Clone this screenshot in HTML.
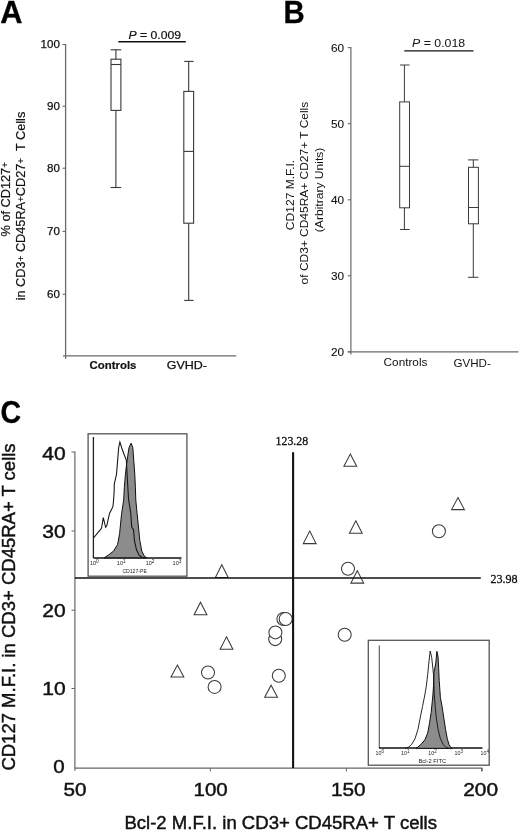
<!DOCTYPE html>
<html><head><meta charset="utf-8"><title>Figure</title>
<style>
html,body{margin:0;padding:0;background:#fff;}
body{width:520px;height:832px;overflow:hidden;font-family:"Liberation Sans", sans-serif;}
svg{display:block;filter:grayscale(1) blur(0.25px);}
</style></head>
<body>
<svg width="520" height="832" viewBox="0 0 520 832">
<rect x="0" y="0" width="520" height="832" fill="#fff"/>
<text x="0.2" y="22.6" font-size="30.8" text-anchor="start" font-weight="bold" font-style="normal" font-family='"Liberation Sans", sans-serif' fill="#000" stroke="#000" stroke-width="0.3" >A</text>
<line x1="65.6" y1="44.0" x2="65.6" y2="358.8" stroke="#6a6a6a" stroke-width="1.3"/>
<line x1="62.9" y1="355.8" x2="236.3" y2="355.8" stroke="#6a6a6a" stroke-width="1.3"/>
<line x1="62.5" y1="44.5" x2="65.6" y2="44.5" stroke="#6a6a6a" stroke-width="1.1"/>
<text x="59.9" y="48.4" font-size="11.6" text-anchor="end" font-weight="normal" font-style="normal" font-family='"Liberation Sans", sans-serif' fill="#111" stroke="#111" stroke-width="0.25" >100</text>
<line x1="62.5" y1="106.2" x2="65.6" y2="106.2" stroke="#6a6a6a" stroke-width="1.1"/>
<text x="59.9" y="110.1" font-size="11.6" text-anchor="end" font-weight="normal" font-style="normal" font-family='"Liberation Sans", sans-serif' fill="#111" stroke="#111" stroke-width="0.25" >90</text>
<line x1="62.5" y1="168.2" x2="65.6" y2="168.2" stroke="#6a6a6a" stroke-width="1.1"/>
<text x="59.9" y="172.1" font-size="11.6" text-anchor="end" font-weight="normal" font-style="normal" font-family='"Liberation Sans", sans-serif' fill="#111" stroke="#111" stroke-width="0.25" >80</text>
<line x1="62.5" y1="231.4" x2="65.6" y2="231.4" stroke="#6a6a6a" stroke-width="1.1"/>
<text x="59.9" y="235.3" font-size="11.6" text-anchor="end" font-weight="normal" font-style="normal" font-family='"Liberation Sans", sans-serif' fill="#111" stroke="#111" stroke-width="0.25" >70</text>
<line x1="62.5" y1="294.2" x2="65.6" y2="294.2" stroke="#6a6a6a" stroke-width="1.1"/>
<text x="59.9" y="298.1" font-size="11.6" text-anchor="end" font-weight="normal" font-style="normal" font-family='"Liberation Sans", sans-serif' fill="#111" stroke="#111" stroke-width="0.25" >60</text>
<line x1="118.3" y1="41.8" x2="185.8" y2="41.8" stroke="#111" stroke-width="1.6"/>
<text x="128.5" y="38.6" font-size="11.6" text-anchor="start" font-weight="normal" font-style="normal" font-family='"Liberation Sans", sans-serif' fill="#111" stroke="#111" stroke-width="0.2" textLength="52.6" lengthAdjust="spacingAndGlyphs" ><tspan font-style="italic">P</tspan> = 0.009</text>
<line x1="115.9" y1="49.8" x2="115.9" y2="59.2" stroke="#383838" stroke-width="1.1"/>
<line x1="115.9" y1="110.4" x2="115.9" y2="187.5" stroke="#383838" stroke-width="1.1"/>
<line x1="110.6" y1="49.8" x2="121.2" y2="49.8" stroke="#383838" stroke-width="1.1"/>
<line x1="110.6" y1="187.5" x2="121.2" y2="187.5" stroke="#383838" stroke-width="1.1"/>
<rect x="111.0" y="59.2" width="9.900000000000006" height="51.2" fill="none" stroke="#383838" stroke-width="1.1"/>
<line x1="111.0" y1="64.5" x2="120.9" y2="64.5" stroke="#383838" stroke-width="1.1"/>
<line x1="188.7" y1="61.4" x2="188.7" y2="91.4" stroke="#383838" stroke-width="1.1"/>
<line x1="188.7" y1="223.2" x2="188.7" y2="300.4" stroke="#383838" stroke-width="1.1"/>
<line x1="184.2" y1="61.4" x2="193.6" y2="61.4" stroke="#383838" stroke-width="1.1"/>
<line x1="184.2" y1="300.4" x2="193.6" y2="300.4" stroke="#383838" stroke-width="1.1"/>
<rect x="183.8" y="91.4" width="9.799999999999983" height="131.79999999999998" fill="none" stroke="#383838" stroke-width="1.1"/>
<line x1="183.8" y1="151.4" x2="193.6" y2="151.4" stroke="#383838" stroke-width="1.1"/>
<text x="89.6" y="368.8" font-size="11.8" text-anchor="start" font-weight="bold" font-style="normal" font-family='"Liberation Sans", sans-serif' fill="#111" stroke="#111" stroke-width="0.2" textLength="46.8" lengthAdjust="spacingAndGlyphs" >Controls</text>
<text x="166.8" y="368.8" font-size="11.8" text-anchor="start" font-weight="normal" font-style="normal" font-family='"Liberation Sans", sans-serif' fill="#111" stroke="#111" stroke-width="0.25" textLength="40.2" lengthAdjust="spacingAndGlyphs" >GVHD-</text>
<text transform="translate(9.7,236.4) rotate(-90)" font-size="12.2" text-anchor="start" font-weight="normal" font-family='"Liberation Sans", sans-serif' fill="#111" stroke="#111" stroke-width="0.2" textLength="74.4" lengthAdjust="spacingAndGlyphs">% of CD127<tspan dy="-1.6" font-size="9.5">+</tspan></text>
<text transform="translate(25.2,300.3) rotate(-90)" font-size="12.2" text-anchor="start" font-weight="normal" font-family='"Liberation Sans", sans-serif' fill="#111" stroke="#111" stroke-width="0.2" textLength="188.6" lengthAdjust="spacingAndGlyphs">in CD3<tspan dy="-1.6" font-size="9.5">+</tspan><tspan dy="1.6"> CD45RA</tspan><tspan dy="-1.6" font-size="9.5">+</tspan><tspan dy="1.6">CD27</tspan><tspan dy="-1.6" font-size="9.5">+</tspan><tspan dy="1.6" xml:space="preserve">  T Cells</tspan></text>
<text x="283.4" y="22.6" font-size="30.8" text-anchor="start" font-weight="bold" font-style="normal" font-family='"Liberation Sans", sans-serif' fill="#000" stroke="#000" stroke-width="0.3" textLength="21.2" lengthAdjust="spacingAndGlyphs" >B</text>
<line x1="350.9" y1="47.0" x2="350.9" y2="354.6" stroke="#6a6a6a" stroke-width="1.2"/>
<line x1="347.8" y1="351.8" x2="518.5" y2="351.8" stroke="#6a6a6a" stroke-width="1.2"/>
<line x1="347.8" y1="47.6" x2="350.9" y2="47.6" stroke="#6a6a6a" stroke-width="1.1"/>
<text x="344.2" y="51.6" font-size="11.8" text-anchor="end" font-weight="normal" font-style="normal" font-family='"Liberation Sans", sans-serif' fill="#111" stroke="#111" stroke-width="0.1" >60</text>
<line x1="347.8" y1="123.7" x2="350.9" y2="123.7" stroke="#6a6a6a" stroke-width="1.1"/>
<text x="344.2" y="127.7" font-size="11.8" text-anchor="end" font-weight="normal" font-style="normal" font-family='"Liberation Sans", sans-serif' fill="#111" stroke="#111" stroke-width="0.1" >50</text>
<line x1="347.8" y1="199.8" x2="350.9" y2="199.8" stroke="#6a6a6a" stroke-width="1.1"/>
<text x="344.2" y="203.8" font-size="11.8" text-anchor="end" font-weight="normal" font-style="normal" font-family='"Liberation Sans", sans-serif' fill="#111" stroke="#111" stroke-width="0.1" >40</text>
<line x1="347.8" y1="275.8" x2="350.9" y2="275.8" stroke="#6a6a6a" stroke-width="1.1"/>
<text x="344.2" y="279.8" font-size="11.8" text-anchor="end" font-weight="normal" font-style="normal" font-family='"Liberation Sans", sans-serif' fill="#111" stroke="#111" stroke-width="0.1" >30</text>
<line x1="347.8" y1="351.8" x2="350.9" y2="351.8" stroke="#6a6a6a" stroke-width="1.1"/>
<text x="344.2" y="355.8" font-size="11.8" text-anchor="end" font-weight="normal" font-style="normal" font-family='"Liberation Sans", sans-serif' fill="#111" stroke="#111" stroke-width="0.1" >20</text>
<line x1="404.3" y1="50.8" x2="473.5" y2="50.8" stroke="#111" stroke-width="1.3"/>
<text x="412.0" y="46.7" font-size="11.4" text-anchor="start" font-weight="normal" font-style="normal" font-family='"Liberation Sans", sans-serif' fill="#111" textLength="53.2" lengthAdjust="spacingAndGlyphs" ><tspan font-style="italic">P</tspan> = 0.018</text>
<line x1="404.4" y1="65.0" x2="404.4" y2="101.9" stroke="#3a3a3a" stroke-width="1.0"/>
<line x1="404.4" y1="207.8" x2="404.4" y2="229.5" stroke="#3a3a3a" stroke-width="1.0"/>
<line x1="400.0" y1="65.0" x2="409.6" y2="65.0" stroke="#3a3a3a" stroke-width="1.0"/>
<line x1="400.0" y1="229.5" x2="409.6" y2="229.5" stroke="#3a3a3a" stroke-width="1.0"/>
<rect x="399.7" y="101.9" width="9.800000000000011" height="105.9" fill="none" stroke="#3a3a3a" stroke-width="1.0"/>
<line x1="399.7" y1="166.3" x2="409.5" y2="166.3" stroke="#3a3a3a" stroke-width="1.0"/>
<line x1="473.3" y1="159.9" x2="473.3" y2="167.3" stroke="#3a3a3a" stroke-width="1.0"/>
<line x1="473.3" y1="223.8" x2="473.3" y2="277.3" stroke="#3a3a3a" stroke-width="1.0"/>
<line x1="467.9" y1="159.9" x2="478.4" y2="159.9" stroke="#3a3a3a" stroke-width="1.0"/>
<line x1="467.9" y1="277.3" x2="478.4" y2="277.3" stroke="#3a3a3a" stroke-width="1.0"/>
<rect x="468.5" y="167.3" width="9.899999999999977" height="56.5" fill="none" stroke="#3a3a3a" stroke-width="1.0"/>
<line x1="468.5" y1="207.5" x2="478.4" y2="207.5" stroke="#3a3a3a" stroke-width="1.0"/>
<text x="383.6" y="366.4" font-size="11.6" text-anchor="start" font-weight="normal" font-style="normal" font-family='"Liberation Sans", sans-serif' fill="#111" textLength="43.8" lengthAdjust="spacingAndGlyphs" >Controls</text>
<text x="453.4" y="366.6" font-size="11.6" text-anchor="start" font-weight="normal" font-style="normal" font-family='"Liberation Sans", sans-serif' fill="#111" textLength="37.4" lengthAdjust="spacingAndGlyphs" >GVHD-</text>
<text transform="translate(293.8,230.2) rotate(-90)" font-size="11.8" text-anchor="start" font-weight="normal" font-family='"Liberation Sans", sans-serif' fill="#111" textLength="70.4" lengthAdjust="spacingAndGlyphs">CD127 M.F.I.</text>
<text transform="translate(307.8,284.4) rotate(-90)" font-size="11.8" text-anchor="start" font-weight="normal" font-family='"Liberation Sans", sans-serif' fill="#111" textLength="182.6" lengthAdjust="spacingAndGlyphs">of CD3+ CD45RA+ CD27+ T Cells</text>
<text transform="translate(322.7,232.2) rotate(-90)" font-size="11.8" text-anchor="start" font-weight="normal" font-family='"Liberation Sans", sans-serif' fill="#111" textLength="84.6" lengthAdjust="spacingAndGlyphs">(Arbitrary Units)</text>
<text x="0.4" y="423.1" font-size="30.8" text-anchor="start" font-weight="bold" font-style="normal" font-family='"Liberation Sans", sans-serif' fill="#000" stroke="#000" stroke-width="0.3" textLength="20.6" lengthAdjust="spacingAndGlyphs" >C</text>
<line x1="74.9" y1="451.5" x2="74.9" y2="770.8" stroke="#666" stroke-width="1.2"/>
<line x1="74.9" y1="768.1" x2="482.3" y2="768.1" stroke="#666" stroke-width="1.2"/>
<line x1="482.3" y1="768.1" x2="482.3" y2="771.2" stroke="#666" stroke-width="1.0"/>
<line x1="71.5" y1="452.0" x2="74.9" y2="452.0" stroke="#666" stroke-width="1.0"/>
<text x="65.6" y="459.9" font-size="18.6" text-anchor="end" font-weight="normal" font-style="normal" font-family='"Liberation Sans", sans-serif' fill="#111" stroke="#111" stroke-width="0.45" textLength="23.4" lengthAdjust="spacingAndGlyphs" >40</text>
<line x1="71.5" y1="531.0" x2="74.9" y2="531.0" stroke="#666" stroke-width="1.0"/>
<text x="65.6" y="538.3" font-size="18.6" text-anchor="end" font-weight="normal" font-style="normal" font-family='"Liberation Sans", sans-serif' fill="#111" stroke="#111" stroke-width="0.45" textLength="23.4" lengthAdjust="spacingAndGlyphs" >30</text>
<line x1="71.5" y1="610.2" x2="74.9" y2="610.2" stroke="#666" stroke-width="1.0"/>
<text x="65.6" y="617.2" font-size="18.6" text-anchor="end" font-weight="normal" font-style="normal" font-family='"Liberation Sans", sans-serif' fill="#111" stroke="#111" stroke-width="0.45" textLength="23.4" lengthAdjust="spacingAndGlyphs" >20</text>
<line x1="71.5" y1="688.5" x2="74.9" y2="688.5" stroke="#666" stroke-width="1.0"/>
<text x="65.6" y="695.1" font-size="18.6" text-anchor="end" font-weight="normal" font-style="normal" font-family='"Liberation Sans", sans-serif' fill="#111" stroke="#111" stroke-width="0.45" textLength="23.4" lengthAdjust="spacingAndGlyphs" >10</text>
<text x="64.7" y="773.0" font-size="18.6" text-anchor="end" font-weight="normal" font-style="normal" font-family='"Liberation Sans", sans-serif' fill="#111" stroke="#111" stroke-width="0.45" textLength="11.4" lengthAdjust="spacingAndGlyphs" >0</text>
<text x="75.1" y="796.1" font-size="18.6" text-anchor="middle" font-weight="normal" font-style="normal" font-family='"Liberation Sans", sans-serif' fill="#111" stroke="#111" stroke-width="0.45" textLength="23.0" lengthAdjust="spacingAndGlyphs" >50</text>
<line x1="210.3" y1="768.1" x2="210.3" y2="771.5" stroke="#666" stroke-width="1.0"/>
<text x="210.6" y="796.1" font-size="18.6" text-anchor="middle" font-weight="normal" font-style="normal" font-family='"Liberation Sans", sans-serif' fill="#111" stroke="#111" stroke-width="0.45" textLength="34.2" lengthAdjust="spacingAndGlyphs" >100</text>
<line x1="346.4" y1="768.1" x2="346.4" y2="771.5" stroke="#666" stroke-width="1.0"/>
<text x="348.2" y="796.1" font-size="18.6" text-anchor="middle" font-weight="normal" font-style="normal" font-family='"Liberation Sans", sans-serif' fill="#111" stroke="#111" stroke-width="0.45" textLength="34.6" lengthAdjust="spacingAndGlyphs" >150</text>
<line x1="481.5" y1="768.1" x2="481.5" y2="771.5" stroke="#666" stroke-width="1.0"/>
<text x="480.6" y="796.1" font-size="18.6" text-anchor="middle" font-weight="normal" font-style="normal" font-family='"Liberation Sans", sans-serif' fill="#111" stroke="#111" stroke-width="0.45" textLength="34.8" lengthAdjust="spacingAndGlyphs" >200</text>
<text transform="translate(15.2,770.6) rotate(-90)" font-size="18.3" text-anchor="start" font-weight="normal" font-family='"Liberation Sans", sans-serif' fill="#111" stroke="#111" stroke-width="0.45" textLength="327.2" lengthAdjust="spacingAndGlyphs">CD127 M.F.I. in CD3+ CD45RA+ T cells</text>
<text x="124.4" y="828.6" font-size="18.3" text-anchor="start" font-weight="normal" font-style="normal" font-family='"Liberation Sans", sans-serif' fill="#111" stroke="#111" stroke-width="0.45" textLength="312.6" lengthAdjust="spacingAndGlyphs" >Bcl-2 M.F.I. in CD3+ CD45RA+ T cells</text>
<rect x="88.1" y="433.8" width="98.80000000000001" height="142.40000000000003" fill="#fff" stroke="#555" stroke-width="1.3"/>
<rect x="368.3" y="640.3" width="120.89999999999998" height="124.90000000000009" fill="#fff" stroke="#555" stroke-width="1.3"/>
<line x1="93.4" y1="437.0" x2="93.4" y2="558.0" stroke="#222" stroke-width="1.3"/>
<line x1="93.5" y1="558.0" x2="181.5" y2="558.0" stroke="#111" stroke-width="1.6"/>
<polygon points="104.2,557.8 108.2,555.2 113.6,551.1 117.6,544.4 119.6,533.6 121.6,513.5 123.7,500 124.3,487.8 125.4,474.4 127,461 129,447.5 131.1,443.2 132.8,447.5 133.8,461 134.8,474.4 135.4,487.8 135.8,500 137.1,513.5 138.5,527 139.8,540.4 141.8,551.1 144.5,556.5 147.2,557.8" fill="#8c8c8c" stroke="#111" stroke-width="1.0"/>
<polyline points="93.5,538 98.1,532.3 101.5,528.3 103.3,517.5 105.6,527.3 106.8,525.6 109.5,513.5 112.9,506.7 113.6,500 114.2,490.5 114.2,485.1 114.9,481.1 116.5,474.4 117.6,460.9 118.7,447.5 119.9,442.1 121.6,447.5 124,454.2 126.3,460 127.3,478 128.5,498.8 130.8,513.5 131.7,527 133.5,529.6 134.4,540.4 136.5,549.8 139.1,555.2 141.8,557.2 145,558" fill="none" stroke="#111" stroke-width="1.05"/>
<text x="89.9" y="565.4" font-size="5.4" text-anchor="start" font-weight="normal" font-style="normal" font-family='"Liberation Sans", sans-serif' fill="#222" textLength="8.8" lengthAdjust="spacingAndGlyphs" >10<tspan dy="-2.6" font-size="4.6">0</tspan></text>
<text x="116.8" y="565.4" font-size="5.4" text-anchor="start" font-weight="normal" font-style="normal" font-family='"Liberation Sans", sans-serif' fill="#222" textLength="8.8" lengthAdjust="spacingAndGlyphs" >10<tspan dy="-2.6" font-size="4.6">1</tspan></text>
<text x="145.7" y="565.4" font-size="5.4" text-anchor="start" font-weight="normal" font-style="normal" font-family='"Liberation Sans", sans-serif' fill="#222" textLength="8.8" lengthAdjust="spacingAndGlyphs" >10<tspan dy="-2.6" font-size="4.6">2</tspan></text>
<text x="172.6" y="565.4" font-size="5.4" text-anchor="start" font-weight="normal" font-style="normal" font-family='"Liberation Sans", sans-serif' fill="#222" textLength="8.8" lengthAdjust="spacingAndGlyphs" >10<tspan dy="-2.6" font-size="4.6">3</tspan></text>
<text x="134.6" y="573.2" font-size="5.2" text-anchor="middle" font-weight="normal" font-style="normal" font-family='"Liberation Sans", sans-serif' fill="#222" textLength="24.4" lengthAdjust="spacingAndGlyphs" >CD127-PE</text>
<line x1="379.3" y1="645.4" x2="379.3" y2="748.0" stroke="#555" stroke-width="1.1"/>
<line x1="379.0" y1="748.0" x2="482.5" y2="748.0" stroke="#111" stroke-width="1.7"/>
<polygon points="416.0,748.3 417.3,747.5 420.8,744.6 424.8,740 427.7,733.1 429.4,723.8 431.2,712.3 432.9,695 433.5,686 434,672.3 435.8,663 436.9,651.3 438.1,657.3 438.7,668.8 439.2,680.4 440.4,697.7 442.1,706.5 443.8,718 445.6,729.6 447.3,738.8 449,744.6 450.8,747.5 452,748.3" fill="#8c8c8c" stroke="#111" stroke-width="1.0"/>
<polyline points="405,748.3 408.1,747.5 411.5,744.6 415,738.8 417.9,729.6 420.2,718 422.5,706.5 424.8,695 426.3,686.2 427.7,674.6 428.8,663 430.2,651 431.7,657.3 432.9,668.8 433.5,674.6 434,686 434.3,695 435.2,706.5 436.3,718 438.1,729.6 440.4,738.8 443.3,744.6 446.2,747.5 449,748.3" fill="none" stroke="#111" stroke-width="0.9"/>
<text x="375.6" y="755.3" font-size="5.4" text-anchor="start" font-weight="normal" font-style="normal" font-family='"Liberation Sans", sans-serif' fill="#222" textLength="8.4" lengthAdjust="spacingAndGlyphs" >10<tspan dy="-2.6" font-size="4.6">0</tspan></text>
<text x="401.1" y="755.3" font-size="5.4" text-anchor="start" font-weight="normal" font-style="normal" font-family='"Liberation Sans", sans-serif' fill="#222" textLength="8.4" lengthAdjust="spacingAndGlyphs" >10<tspan dy="-2.6" font-size="4.6">1</tspan></text>
<text x="428.3" y="755.3" font-size="5.4" text-anchor="start" font-weight="normal" font-style="normal" font-family='"Liberation Sans", sans-serif' fill="#222" textLength="8.4" lengthAdjust="spacingAndGlyphs" >10<tspan dy="-2.6" font-size="4.6">2</tspan></text>
<text x="454.5" y="755.3" font-size="5.4" text-anchor="start" font-weight="normal" font-style="normal" font-family='"Liberation Sans", sans-serif' fill="#222" textLength="8.4" lengthAdjust="spacingAndGlyphs" >10<tspan dy="-2.6" font-size="4.6">3</tspan></text>
<text x="480.5" y="755.3" font-size="5.4" text-anchor="start" font-weight="normal" font-style="normal" font-family='"Liberation Sans", sans-serif' fill="#222" textLength="8.4" lengthAdjust="spacingAndGlyphs" >10<tspan dy="-2.6" font-size="4.6">4</tspan></text>
<text x="432.3" y="763.4" font-size="5.2" text-anchor="middle" font-weight="normal" font-style="normal" font-family='"Liberation Sans", sans-serif' fill="#222" textLength="27.6" lengthAdjust="spacingAndGlyphs" >Bcl-2 FITC</text>
<polygon points="350.3,454.1 356.7,466.3 343.90000000000003,466.3" fill="#fff" stroke="#3a3a3a" stroke-width="1.05" stroke-linejoin="miter"/>
<polygon points="309.7,531.0999999999999 316.09999999999997,543.6 303.3,543.6" fill="#fff" stroke="#3a3a3a" stroke-width="1.05" stroke-linejoin="miter"/>
<polygon points="355.8,520.8 362.2,533.2 349.40000000000003,533.2" fill="#fff" stroke="#3a3a3a" stroke-width="1.05" stroke-linejoin="miter"/>
<polygon points="357.3,570.6999999999999 363.7,583.1 350.90000000000003,583.1" fill="#fff" stroke="#3a3a3a" stroke-width="1.05" stroke-linejoin="miter"/>
<polygon points="458.0,497.5 464.4,509.6 451.6,509.6" fill="#fff" stroke="#3a3a3a" stroke-width="1.05" stroke-linejoin="miter"/>
<polygon points="221.8,564.6999999999999 228.20000000000002,577.5 215.4,577.5" fill="#fff" stroke="#3a3a3a" stroke-width="1.05" stroke-linejoin="miter"/>
<polygon points="200.5,602.1999999999999 206.9,614.7 194.1,614.7" fill="#fff" stroke="#3a3a3a" stroke-width="1.05" stroke-linejoin="miter"/>
<polygon points="226.5,636.8 232.9,649.3000000000001 220.1,649.3000000000001" fill="#fff" stroke="#3a3a3a" stroke-width="1.05" stroke-linejoin="miter"/>
<polygon points="177.4,665.0 183.8,676.9 171.0,676.9" fill="#fff" stroke="#3a3a3a" stroke-width="1.05" stroke-linejoin="miter"/>
<polygon points="271.1,685.1999999999999 277.5,697.3000000000001 264.70000000000005,697.3000000000001" fill="#fff" stroke="#3a3a3a" stroke-width="1.05" stroke-linejoin="miter"/>
<circle cx="348.0" cy="568.8" r="6.5" fill="#fff" stroke="#3a3a3a" stroke-width="1.05"/>
<circle cx="438.9" cy="531.2" r="6.5" fill="#fff" stroke="#3a3a3a" stroke-width="1.05"/>
<circle cx="208.0" cy="672.5" r="6.5" fill="#fff" stroke="#3a3a3a" stroke-width="1.05"/>
<circle cx="214.6" cy="686.9" r="6.5" fill="#fff" stroke="#3a3a3a" stroke-width="1.05"/>
<circle cx="283.4" cy="619.0" r="6.5" fill="#fff" stroke="#3a3a3a" stroke-width="1.05"/>
<circle cx="285.7" cy="619.0" r="6.5" fill="#fff" stroke="#3a3a3a" stroke-width="1.05"/>
<circle cx="275.2" cy="639.1" r="6.5" fill="#fff" stroke="#3a3a3a" stroke-width="1.05"/>
<circle cx="275.4" cy="632.4" r="6.5" fill="#fff" stroke="#3a3a3a" stroke-width="1.05"/>
<circle cx="278.8" cy="675.8" r="6.5" fill="#fff" stroke="#3a3a3a" stroke-width="1.05"/>
<circle cx="344.7" cy="634.8" r="6.5" fill="#fff" stroke="#3a3a3a" stroke-width="1.05"/>
<line x1="293.1" y1="452.2" x2="293.1" y2="768.1" stroke="#111" stroke-width="2.1"/>
<line x1="74.9" y1="578.0" x2="480.8" y2="578.0" stroke="#111" stroke-width="1.5"/>
<text x="275.6" y="445.0" font-size="12.6" text-anchor="start" font-weight="normal" font-style="normal" font-family='"Liberation Serif", serif' fill="#111" stroke="#111" stroke-width="0.3" textLength="32.6" lengthAdjust="spacingAndGlyphs" >123.28</text>
<text x="490.4" y="582.8" font-size="12.6" text-anchor="start" font-weight="normal" font-style="normal" font-family='"Liberation Serif", serif' fill="#111" stroke="#111" stroke-width="0.3" textLength="27.2" lengthAdjust="spacingAndGlyphs" >23.98</text>
</svg>
</body></html>
